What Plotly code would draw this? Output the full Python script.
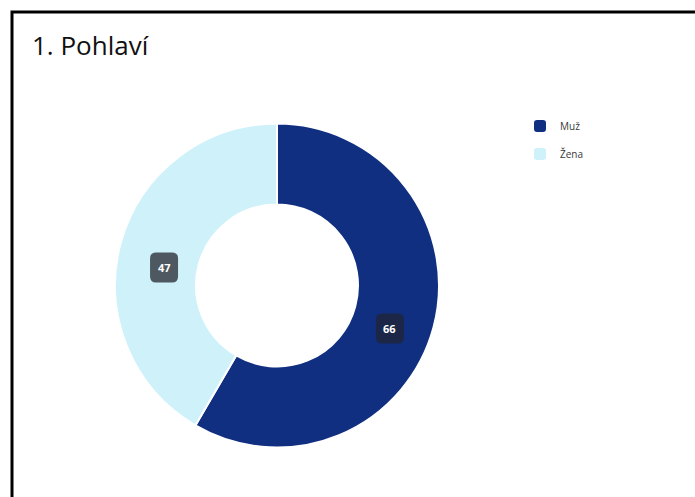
import math
import plotly.graph_objects as go

# ---- data ----
categories = ["Muž", "Žena"]
values = [66, 47]
slice_colors = ["#112F80", "#CFF2FA"]
label_box_colors = ["#1C2747", "#4D5860"]
title_text = "1. Pohlaví"

W, H = 695, 497
FONT = "'Open Sans', 'Noto Sans', sans-serif"

# pie geometry in pixels (top-down)
cx, cy, R = 277, 285.5, 162
hole = 0.5

def px(x):
    return x / W

def py(y):
    return 1 - y / H

fig = go.Figure(go.Pie(
    labels=categories,
    values=values,
    hole=hole,
    sort=False,
    direction="clockwise",
    rotation=0,
    marker=dict(colors=slice_colors, line=dict(color="white", width=2)),
    textinfo="none",
    hoverinfo="label+value",
    domain=dict(x=[px(cx - R), px(cx + R)], y=[py(cy + R), py(cy - R)]),
    showlegend=False,
))

shapes = []
annotations = []

def rounded_rect(x0, y0, x1, y1, r):
    pts = [
        f"M {px(x0 + r)} {py(y0)}",
        f"L {px(x1 - r)} {py(y0)}",
        f"Q {px(x1)} {py(y0)} {px(x1)} {py(y0 + r)}",
        f"L {px(x1)} {py(y1 - r)}",
        f"Q {px(x1)} {py(y1)} {px(x1 - r)} {py(y1)}",
        f"L {px(x0 + r)} {py(y1)}",
        f"Q {px(x0)} {py(y1)} {px(x0)} {py(y1 - r)}",
        f"L {px(x0)} {py(y0 + r)}",
        f"Q {px(x0)} {py(y0)} {px(x0 + r)} {py(y0)}",
        "Z",
    ]
    return " ".join(pts)

# value labels at the middle of each arc (label anchor sits slightly below centre)
total = sum(values)
start = 0.0
r_lab = 117
label_dy = 12.5
for v, bc in zip(values, label_box_colors):
    ang = start + v / total * 360 / 2
    start += v / total * 360
    a = math.radians(ang)
    lx = cx + r_lab * math.sin(a)
    ly = cy + label_dy - r_lab * math.cos(a)
    bw, bh = 28, 30
    shapes.append(dict(type="path", xref="paper", yref="paper",
                       path=rounded_rect(lx - bw / 2, ly - bh / 2, lx + bw / 2, ly + bh / 2, 6),
                       fillcolor=bc, line=dict(width=0), layer="above"))
    annotations.append(dict(x=px(lx), y=py(ly), xref="paper", yref="paper",
                            text=f"<b>{v}</b>", showarrow=False,
                            font=dict(family=FONT, size=11, color="white"),
                            xanchor="center", yanchor="middle"))

# legend (manual)
leg_x, leg_y0, leg_dy = 534, 126, 28
for i, (name, col) in enumerate(zip(categories, slice_colors)):
    yy = leg_y0 + i * leg_dy
    shapes.append(dict(type="path", xref="paper", yref="paper",
                       path=rounded_rect(leg_x, yy - 6, leg_x + 12, yy + 6, 3),
                       fillcolor=col, line=dict(width=0), layer="above"))
    annotations.append(dict(x=px(leg_x + 24), y=py(yy), xref="paper", yref="paper",
                            text=name, showarrow=False,
                            font=dict(family=FONT, size=10, color="#3a3a3a"),
                            xanchor="left", yanchor="middle"))

# title
annotations.append(dict(x=px(30), y=py(45), xref="paper", yref="paper",
                        text=title_text, showarrow=False,
                        font=dict(family=FONT, size=26, color="#111111"),
                        xanchor="left", yanchor="middle"))

# frame border (top-left visible)
shapes.append(dict(type="rect", xref="paper", yref="paper",
                   x0=px(12), x1=1.3, y0=-0.3, y1=py(12),
                   line=dict(color="black", width=3), fillcolor="rgba(0,0,0,0)", layer="above"))

fig.update_layout(
    width=W, height=H,
    margin=dict(l=0, r=0, t=0, b=0),
    paper_bgcolor="white",
    plot_bgcolor="white",
    shapes=shapes,
    annotations=annotations,
    showlegend=False,
)

fig.write_html("out.html")
